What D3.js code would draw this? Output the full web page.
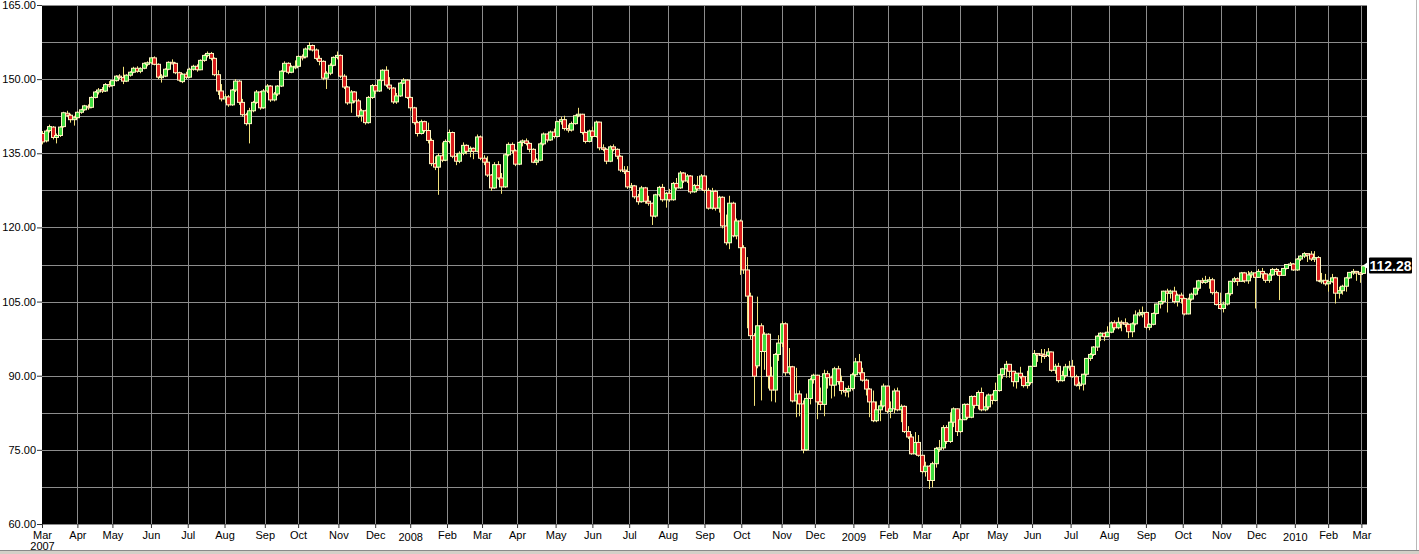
<!DOCTYPE html>
<html><head><meta charset="utf-8">
<script src="https://cdn.jsdelivr.net/npm/d3@7/dist/d3.min.js"></script>
<style>body{margin:0;background:#fff;overflow:hidden}svg{display:block}</style>
</head><body><svg id="c" width="1419" height="554"></svg>
<script>
// ---------- data ----------
const firstDay = [2007, 2, 1];   // calendar start (Mar 1 2007)
const lastDay  = [2010, 2, 4];   // calendar end   (Mar 4 2010)
const holidays = ["2007-04-06","2007-05-28","2007-07-04","2007-09-03","2007-11-22","2007-12-25",
 "2008-01-01","2008-01-21","2008-02-18","2008-03-21","2008-05-26","2008-07-04","2008-09-01","2008-11-27","2008-12-25",
 "2009-01-01","2009-01-19","2009-02-16","2009-04-10","2009-05-25","2009-07-03","2009-09-07","2009-11-26","2009-12-25",
 "2010-01-01","2010-01-18","2010-02-15"];
const firstBarDay = 2, barStep = 2;  // one candle per two trading days
const monthNames = ["Jan","Feb","Mar","Apr","May","Jun","Jul","Aug","Sep","Oct","Nov","Dec"];
const yTicks = [60,75,90,105,120,135,150,165];
const lastPriceLabel = "112.28";

// [open, high, low, close]
const bars2007 = [
 [139.0,139.5,136.8,137.3],[137.5,139.8,137.2,139.5],[139.6,140.8,139.2,140.4],[140.3,140.5,137.8,138.2],[138.2,139.0,137.0,138.6],[138.6,140.5,138.3,140.3],[140.4,143.4,140.2,143.2],[143.1,143.6,142.3,142.7],[142.7,143.0,141.2,141.8],[141.8,142.6,140.6,142.2],
 [142.2,143.5,142.0,143.3],[143.3,144.0,143.0,143.8],[143.8,144.8,143.6,144.6],[144.5,144.9,143.8,144.2],[144.3,146.5,144.1,146.3],[146.3,147.6,146.1,147.4],[147.4,148.2,146.9,147.8],[147.9,148.4,147.2,147.6],[147.6,149.2,147.4,148.9],[148.9,149.6,148.3,148.7],
 [148.7,149.9,148.5,149.7],[149.7,150.8,149.5,150.6],[150.6,151.0,150.0,150.3],[150.3,152.5,149.0,149.6],[149.6,151.0,149.4,150.8],[150.8,151.6,150.5,151.4],[151.4,152.5,151.2,152.2],[152.2,152.6,151.3,151.6],[151.6,152.4,151.2,152.1],[152.2,153.4,152.0,153.2],[153.2,153.6,152.6,153.3],
 [153.3,154.5,153.1,154.3],[154.3,154.6,152.8,153.0],[153.0,153.2,150.0,150.4],[150.4,151.0,149.3,150.6],[150.6,152.2,150.4,152.0],[152.0,153.6,151.8,153.4],[153.4,154.0,153.0,153.2],[153.2,153.4,151.0,151.3],[151.3,151.5,149.5,149.8],[149.5,151.2,149.2,151.0],[151.0,151.5,150.0,150.4],
 [150.4,152.3,150.2,152.0],[152.0,152.9,151.7,152.6],[152.6,153.0,151.5,151.9],[151.9,154.0,151.8,153.8],[153.8,155.0,153.5,154.8],[154.8,155.6,154.4,155.2],[155.2,155.5,153.8,154.2],[154.2,154.4,150.6,150.9],[150.9,151.8,146.8,147.6],[147.6,149.0,145.5,146.0],
 [146.0,147.0,145.2,146.4],[146.4,146.8,144.4,144.8],[144.8,148.0,144.6,147.8],[147.8,150.0,147.4,149.6],[149.6,149.8,144.8,145.3],[145.3,146.0,142.4,142.8],[142.8,143.2,140.6,141.0],[141.0,144.2,137.0,143.6],[143.6,145.6,143.3,145.3],[145.3,147.8,145.0,147.4],[147.4,147.6,143.8,144.2],[144.2,148.0,144.0,147.6],
 [147.6,149.0,147.2,148.6],[148.6,148.8,145.4,145.8],[145.8,147.4,145.5,147.0],[147.0,148.8,146.6,148.6],[148.6,151.8,148.4,151.6],[151.6,153.6,151.4,153.2],[153.2,153.4,151.0,151.4],[151.4,152.8,151.2,152.5],[152.5,153.8,152.0,152.6],
 [152.6,154.8,152.4,154.6],[154.6,155.0,153.8,154.5],[154.5,156.4,154.2,156.1],[156.1,157.5,155.8,156.8],[156.8,157.0,155.6,155.9],[155.9,156.2,153.8,154.2],[154.2,154.8,152.8,153.6],[153.6,153.8,149.8,150.2],[150.2,151.6,148.0,151.2],[151.2,153.2,150.8,152.8],[152.8,154.6,152.6,154.4],[154.4,155.6,154.0,154.8],
 [154.8,155.0,150.2,150.6],[150.6,151.0,148.0,148.4],[148.4,148.6,144.8,145.2],[145.2,147.8,143.2,147.4],[147.4,147.6,145.2,145.6],[145.6,146.0,142.2,142.6],[142.6,144.0,141.4,143.6],[143.6,143.8,140.8,141.2],[141.2,146.6,141.0,146.3],[146.3,149.0,146.0,148.7],
 [148.7,149.0,147.0,147.6],[147.6,150.0,147.4,149.8],[149.8,152.0,149.6,151.8],[151.8,152.6,148.4,148.8],[148.8,150.4,147.8,148.2],[148.2,148.4,145.0,145.4],[145.4,147.2,145.0,146.6],[146.6,149.4,146.4,149.2],[149.2,150.2,149.0,149.8],[149.8,150.0,146.0,146.3]
];
const bars2008 = [
 [146.3,146.5,143.6,144.2],[144.2,144.4,140.8,141.2],[141.2,141.6,138.4,139.0],[139.0,141.8,138.8,141.4],[141.4,141.6,139.2,139.6],[139.6,141.2,137.0,137.6],[137.6,138.0,132.4,132.9],[132.9,134.4,131.6,132.2],[132.2,135.0,126.6,134.5],[134.5,137.2,133.2,133.6],[133.6,137.8,133.4,137.4],
 [137.4,139.8,137.0,139.2],[139.2,139.4,134.0,134.4],[134.4,135.0,132.6,133.4],[133.4,135.4,133.0,135.0],[135.0,137.2,134.6,136.6],[136.6,136.8,134.8,135.4],[135.4,136.4,134.2,136.0],[136.0,136.2,133.8,135.4],[135.4,138.8,135.2,138.3],[138.3,138.6,133.6,134.0],
 [134.0,134.6,132.6,133.2],[133.2,134.4,130.2,130.6],[130.6,130.8,127.4,128.0],[128.0,133.2,127.8,132.7],[132.7,133.4,129.6,130.0],[130.0,131.0,126.8,128.2],[128.2,135.0,128.0,134.7],[134.7,137.2,134.4,136.8],[136.8,137.2,135.0,135.5],[135.5,135.8,132.4,132.8],
 [132.8,137.4,132.6,137.2],[137.2,137.8,136.4,137.5],[137.5,138.0,136.6,137.0],[137.0,137.2,135.2,135.8],[135.8,136.0,133.0,133.2],[133.2,134.0,132.6,133.6],[133.6,137.2,133.4,136.9],[136.9,139.2,136.6,138.9],[138.9,139.0,137.2,137.7],[137.7,139.6,137.5,139.3],[139.3,140.0,138.0,138.4],
 [138.4,141.6,138.2,141.4],[141.4,142.4,140.8,141.8],[141.8,142.6,139.6,140.0],[140.0,140.8,139.2,139.7],[139.7,141.4,139.4,141.0],[141.0,142.8,140.8,142.6],[142.6,144.2,142.3,142.9],[142.9,143.0,138.8,139.2],[139.2,139.4,137.0,137.4],[137.4,139.8,137.2,139.5],
 [139.5,140.4,138.0,138.4],[138.4,141.6,138.2,141.3],[141.3,141.4,135.6,136.1],[136.1,136.8,135.4,135.8],[135.8,136.0,132.8,133.4],[133.4,136.6,133.2,136.3],[136.3,136.8,135.4,135.8],[135.8,136.0,133.8,134.4],[134.4,134.6,131.2,131.6],[131.6,132.4,130.8,131.3],[131.3,132.4,127.8,128.2],
 [128.2,129.0,127.4,128.4],[128.4,128.6,125.8,126.2],[126.2,126.8,124.6,125.2],[125.2,128.4,125.0,128.0],[128.0,128.2,124.8,125.3],[125.3,126.4,124.4,124.9],[124.9,125.0,120.5,122.3],[122.3,126.8,122.0,126.6],[126.6,128.4,126.2,128.1],[128.1,128.8,125.2,125.6],[125.6,127.2,124.0,126.9],
 [126.9,127.8,125.2,125.6],[125.6,129.2,125.4,128.9],[128.9,130.0,127.6,128.0],[128.0,131.4,127.8,131.0],[131.0,131.2,129.0,129.4],[129.4,130.8,129.0,130.4],[130.4,130.6,126.8,127.2],[127.2,128.8,127.0,128.5],[128.5,130.4,127.4,127.8],[127.8,130.8,127.6,130.4],
 [130.4,130.6,127.0,127.5],[127.5,128.0,123.6,123.9],[123.9,128.0,123.6,127.3],[127.3,127.6,123.4,123.9],[123.9,126.4,123.0,126.1],[126.1,126.3,119.8,120.3],[120.3,122.6,116.4,116.9],[116.9,126.4,115.6,124.9],[124.9,125.2,118.0,118.3],[118.3,121.8,117.6,121.3],[121.3,121.6,110.4,115.9],
 [115.9,116.4,110.6,111.4],[111.4,114.0,99.6,106.1],[106.1,106.8,97.4,98.1],[98.1,98.6,83.9,89.9],[92.0,106.0,91.5,100.1],[100.1,100.6,85.0,94.9],[94.9,98.8,91.2,98.4],[98.4,98.6,87.4,89.9],[89.9,91.8,84.8,87.1],[87.1,94.6,84.6,94.3],[94.3,98.2,93.0,96.6],
 [96.6,101.0,95.8,100.5],[100.5,100.8,90.0,90.6],[90.6,95.6,90.2,91.8],[91.8,92.0,84.6,84.9],[84.9,91.6,81.6,86.3],[86.3,87.0,81.8,84.3],[84.3,85.0,74.3,75.0],[75.0,86.4,74.8,85.4],[85.4,89.6,84.2,89.2],[89.2,90.4,88.4,90.1],
 [90.1,90.2,81.2,84.7],[84.7,87.6,83.0,84.2],[84.2,91.2,81.8,90.4],[90.4,91.0,87.4,89.6],[89.6,90.0,85.4,88.1],[88.1,91.8,85.8,91.4],[91.4,92.0,88.2,88.8],[88.8,90.0,86.2,87.0],[87.0,87.6,85.8,86.9],[86.9,88.0,85.6,87.4],[87.4,90.6,87.0,90.2]
];
const bars2009 = [
 [90.2,93.6,89.8,92.8],[92.8,94.4,90.2,90.6],[90.6,91.6,88.8,89.1],[89.1,89.4,86.0,87.3],[87.3,87.5,81.6,84.7],[84.7,87.0,80.6,80.9],[80.9,84.8,80.6,83.1],[83.1,85.0,80.8,83.9],[83.9,88.4,83.6,87.9],[87.9,88.0,82.4,82.8],
 [82.8,84.8,81.4,83.3],[83.3,87.4,82.4,86.9],[86.9,87.6,82.8,83.1],[83.1,84.2,80.6,83.8],[83.8,84.0,78.4,78.7],[78.7,79.8,77.2,77.6],[77.6,78.2,74.0,74.2],[74.2,78.6,74.0,76.5],[76.5,78.0,73.6,73.9],
 [73.9,74.0,70.2,70.6],[70.6,72.6,69.6,71.7],[71.7,71.9,67.1,68.8],[68.8,72.6,67.4,72.2],[72.2,75.6,71.4,75.3],[75.3,77.0,74.6,75.4],[75.4,80.0,75.0,79.5],[79.5,80.0,76.2,76.7],[76.7,82.6,76.4,80.6],[80.6,83.6,79.6,83.3],[83.3,83.4,77.8,78.7],
 [78.7,81.4,78.4,81.1],[81.1,84.4,81.0,84.2],[84.2,84.4,81.2,81.6],[81.6,86.0,81.4,85.8],[85.8,86.0,83.4,84.0],[84.0,87.0,83.2,86.6],[86.6,87.6,82.8,83.1],[83.1,85.8,82.8,83.7],[83.7,86.4,83.2,86.1],[86.1,86.4,84.2,85.0],[85.0,88.6,84.8,87.0],
 [87.0,90.4,86.8,90.2],[90.2,91.6,89.4,91.4],[91.4,93.0,89.6,92.3],[92.3,92.4,89.6,90.9],[90.9,91.0,87.8,88.8],[88.8,90.6,87.4,90.5],[90.5,91.8,89.4,89.8],[89.8,90.0,87.6,88.0],[88.0,91.0,87.4,88.6],[88.6,92.0,88.2,91.9],
 [91.9,95.2,91.8,94.5],[94.5,94.6,92.8,94.4],[94.4,95.4,92.6,94.2],[94.2,95.4,93.4,94.1],[94.1,95.6,93.8,94.8],[94.8,94.9,90.8,91.1],[91.1,92.4,90.4,91.9],[91.9,92.6,88.6,89.0],[89.0,91.0,88.8,90.0],[90.0,92.4,89.6,91.8],[91.8,93.0,91.0,91.9],
 [91.9,93.2,89.6,89.8],[89.8,90.2,87.8,88.1],[88.1,88.8,87.2,88.3],[88.3,90.4,87.0,90.3],[90.3,93.6,90.0,93.5],[93.5,94.6,93.0,94.3],[94.3,96.0,94.0,95.8],[95.8,98.2,95.0,98.0],[98.0,98.8,97.0,98.6],[98.6,98.7,97.0,97.9],[97.9,100.0,97.8,98.8],
 [98.8,101.0,98.6,100.7],[100.7,101.2,99.2,99.7],[99.7,101.8,99.4,100.8],[100.8,101.2,99.0,100.7],[100.7,101.6,99.8,100.4],[100.4,100.6,97.6,98.9],[98.9,100.8,97.8,100.5],[100.5,103.2,100.2,102.3],[102.3,103.4,102.0,102.7],[102.7,104.0,101.8,102.8],
 [102.8,103.0,99.4,99.8],[99.8,100.6,99.2,100.4],[100.4,102.8,100.2,102.6],[102.6,104.6,102.4,104.5],[104.5,105.2,103.6,105.0],[105.0,107.2,104.6,107.1],[107.1,107.6,102.8,106.7],[106.7,107.4,105.6,107.1],[107.1,108.0,104.6,105.0],[105.0,106.6,104.0,106.3],[106.3,106.8,104.6,105.6],
 [105.6,105.8,102.2,102.5],[102.5,105.8,102.4,105.5],[105.5,106.8,105.2,106.5],[106.5,107.8,106.2,107.7],[107.7,109.4,107.2,109.2],[109.2,109.8,108.6,108.9],[108.9,110.2,108.6,109.3],[109.3,110.0,107.6,109.4],[109.4,109.8,106.4,106.8],[106.8,107.2,104.2,104.4],[104.4,106.8,103.4,103.6],
 [103.6,105.0,102.8,104.5],[104.5,106.8,104.2,106.6],[106.6,109.2,106.2,109.1],[109.1,110.0,108.8,109.6],[109.6,109.9,108.2,109.1],[109.1,111.0,109.0,110.8],[110.8,111.0,108.8,109.2],[109.2,111.2,108.6,110.4],[110.4,111.2,109.8,110.8],[110.8,110.9,103.6,109.9],
 [109.9,111.6,109.8,111.1],[111.1,111.8,109.6,110.6],[110.6,110.8,108.8,109.3],[109.3,110.8,108.8,110.4],[110.4,111.8,110.2,111.5],[111.5,111.8,110.4,111.1],[111.1,111.2,105.3,110.3],[110.3,111.8,110.2,111.7],[111.7,112.6,111.5,112.5],[112.5,113.0,112.2,112.6],[112.6,112.8,111.2,111.4]
];
const bars2010 = [
 [111.4,113.8,111.2,113.6],[113.6,114.4,113.2,114.2],[114.2,115.0,113.8,114.7],[114.7,114.8,113.0,114.6],[114.6,115.2,113.2,113.6],[113.6,115.2,113.0,113.9],[113.9,114.2,109.0,109.2],[109.2,110.8,108.6,109.3],[109.3,110.6,108.2,108.6],
 [108.6,109.4,107.0,109.0],[109.0,110.6,108.8,109.8],[109.8,110.0,104.6,106.7],[106.7,108.0,105.6,107.2],[107.2,108.4,106.4,108.1],[108.1,110.0,107.0,109.8],[109.8,111.0,109.6,110.9],[110.9,111.6,110.4,111.1],[111.1,111.2,109.2,110.8],[110.8,111.0,108.8,110.7],
 [110.7,112.4,110.6,112.2],[112.2,112.5,111.8,112.28]
];

// ---------- trading calendar ----------
const fmt = d3.utcFormat("%Y-%m-%d");
const holidaySet = new Set(holidays);
const tradingDays = d3.utcDay.range(new Date(Date.UTC(...firstDay)), d3.utcDay.offset(new Date(Date.UTC(...lastDay)), 1))
  .filter(d => d.getUTCDay() !== 0 && d.getUTCDay() !== 6 && !holidaySet.has(fmt(d)));

const monthTicks = [];
tradingDays.forEach((d, i) => {
  if (i === 0 || d.getUTCMonth() !== tradingDays[i-1].getUTCMonth()) monthTicks.push({i, date: d});
});

const bars = [...bars2007, ...bars2008, ...bars2009, ...bars2010].map((d, k) => ({
  day: firstBarDay + barStep * k, o: d[0], h: d[1], l: d[2], c: d[3]
}));

// ---------- layout ----------
const P = {l: 42, r: 1367, t: 5, b: 524};
const svg = d3.select("#c");
const x = d3.scaleLinear().domain([1.8, tradingDays.length - 0.8]).range([P.l, P.r]);
const y = d3.scaleLinear().domain([60, 165]).range([P.b, P.t]);
const font = "'Liberation Sans', Arial, sans-serif";

svg.append("rect").attr("width", 1419).attr("height", 554).attr("fill", "#fff");
// window chrome
svg.append("rect").attr("x", 0).attr("y", 550).attr("width", 1419).attr("height", 4).attr("fill", "#d4d0c8");
svg.append("line").attr("x1", 0).attr("x2", 1419).attr("y1", 550.5).attr("y2", 550.5).attr("stroke", "#8a8a8a");
svg.append("line").attr("x1", 1416.5).attr("x2", 1416.5).attr("y1", 0).attr("y2", 550).attr("stroke", "#b8b8b8");

svg.append("rect").attr("x", P.l).attr("y", P.t).attr("width", P.r - P.l).attr("height", P.b - P.t).attr("fill", "#000");

svg.append("clipPath").attr("id", "clip").append("rect")
  .attr("x", P.l).attr("y", P.t - 1).attr("width", P.r - P.l).attr("height", P.b - P.t + 2);

// grid
const grid = svg.append("g").attr("stroke", "#8c8c8c").attr("stroke-width", 1);
grid.selectAll("line.h").data(d3.range(60, 165.01, 7.5)).join("line")
  .attr("x1", P.l).attr("x2", P.r)
  .attr("y1", d => Math.round(y(d)) + 0.5).attr("y2", d => Math.round(y(d)) + 0.5);
grid.selectAll("line.v").data(monthTicks.filter(m => m.i > 0)).join("line")
  .attr("x1", d => Math.round(x(d.i)) + 0.5).attr("x2", d => Math.round(x(d.i)) + 0.5)
  .attr("y1", P.t).attr("y2", P.b);

// candles
const cg = svg.append("g").attr("clip-path", "url(#clip)");
const cs = cg.selectAll("g.c").data(bars).join("g");
cs.append("line")
  .attr("x1", d => Math.round(x(d.day)) + 0.5).attr("x2", d => Math.round(x(d.day)) + 0.5)
  .attr("y1", d => y(d.h)).attr("y2", d => y(d.l))
  .attr("stroke", "#f3e27c").attr("stroke-width", 1);
cs.append("rect")
  .attr("x", d => Math.round(x(d.day)) - 1.5)
  .attr("width", 4)
  .attr("y", d => y(Math.max(d.o, d.c)))
  .attr("height", d => Math.max(1.5, Math.abs(y(d.o) - y(d.c))))
  .attr("fill", d => d.c >= d.o ? "#3fdc3f" : "#d81c1c")
  .attr("stroke", "#fff6c4").attr("stroke-width", 1);

// y axis
const yAxis = svg.append("g").attr("transform", `translate(${P.l},0)`)
  .call(d3.axisLeft(y).tickValues(yTicks).tickFormat(d3.format(".2f")).tickSize(5).tickPadding(1));
yAxis.select(".domain").remove();
yAxis.selectAll("line").attr("stroke", "#333");
yAxis.selectAll("text").attr("font-family", font).attr("font-size", 11).attr("fill", "#000");

// x axis
const xAxis = svg.append("g").attr("transform", `translate(0,${P.b})`)
  .call(d3.axisBottom(x).tickValues(monthTicks.map(m => Math.max(m.i, 1.8)))
    .tickSize(4).tickPadding(3).tickFormat(() => ""));
xAxis.select(".domain").remove();
xAxis.selectAll("line").attr("stroke", "#333");
xAxis.selectAll(".tick").each(function(v, k) {
  const m = monthTicks[k];
  const mo = m.date.getUTCMonth();
  const t = d3.select(this).select("text")
    .attr("font-family", font).attr("font-size", 11).attr("fill", "#000");
  if (k === 0) {
    t.text(null);
    t.append("tspan").attr("x", 0).text(monthNames[mo]);
    t.append("tspan").attr("x", 0).attr("dy", "1.05em").text(m.date.getUTCFullYear());
  } else if (mo === 0) {
    t.attr("dy", "0.9em").text(m.date.getUTCFullYear());
  } else {
    t.text(monthNames[mo]);
  }
});

// last price label
const ly = y(bars[bars.length - 1].c);
svg.append("path")
  .attr("d", `M${P.r - 4},${ly} L${P.r + 3},${ly - 5} L${P.r + 3},${ly + 5} Z`)
  .attr("fill", "#fff");
svg.append("rect").attr("x", P.r + 2).attr("y", ly - 8).attr("width", 43).attr("height", 16)
  .attr("rx", 1).attr("fill", "#000");
svg.append("text").attr("x", P.r + 23.5).attr("y", ly + 5)
  .attr("text-anchor", "middle").attr("font-family", font).attr("font-size", 14)
  .attr("font-weight", "bold").attr("fill", "#fff").text(lastPriceLabel);
</script>
</body></html>
